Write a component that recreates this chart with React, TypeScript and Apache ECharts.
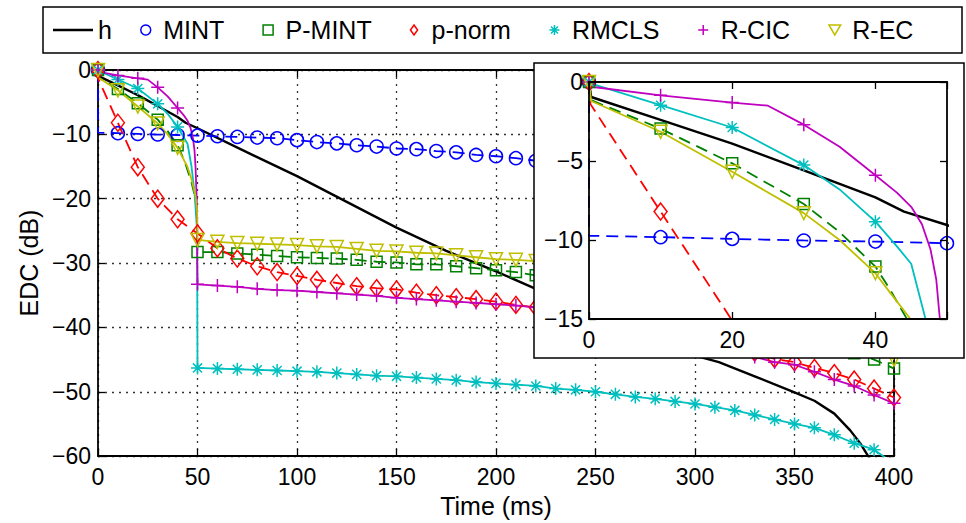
import React, { useEffect, useRef } from 'react';
import * as echarts from 'echarts';

const FONT = '"Liberation Sans", Arial, Helvetica, sans-serif';

// Series names and colours (MATLAB default order)
const names = ['h', 'MINT', 'P-MINT', 'p-norm', 'RMCLS', 'R-CIC', 'R-EC'];
const colors = ['#000000', '#0000ff', '#008000', '#ff0000', '#00bfbf', '#bf00bf', '#bfbf00'];

// Axis ticks
const mainXTicks = [0, 50, 100, 150, 200, 250, 300, 350, 400];
const mainYTicks = [-60, -50, -40, -30, -20, -10, 0];
const insetXTicks = [0, 20, 40];
const insetYTicks = [-15, -10, -5, 0];

// [time (ms), EDC (dB)]
const hData = [
  [0, 0], [0.3, -0.95], [10, -2.4], [16, -3.3], [20, -3.9], [30, -5.6], [40, -7.3], [44, -8.2], [50, -9.05],
  [75, -12.8], [100, -16.5], [125, -20.5], [150, -24.5], [175, -28.1], [200, -31.3], [220, -34],
  [250, -38], [275, -41.2], [300, -44.4], [312, -45.4], [330, -47.6], [350, -50.1], [360, -51.4],
  [370, -53.4], [378, -56], [383, -58], [387, -60], [390, -61.5],
];
const mintData = [
  [0, 0], [0, -9.73], [10, -9.82], [20, -9.93], [30, -10.03], [40, -10.1], [50, -10.2], [60, -10.3],
  [70, -10.4], [80, -10.5], [90, -10.6], [100, -10.9], [110, -11.2], [120, -11.4], [130, -11.7],
  [140, -11.9], [150, -12.2], [160, -12.3], [170, -12.6], [180, -12.8], [190, -13.2], [200, -13.4],
  [210, -13.7], [220, -14.1], [230, -14.4], [240, -14.8], [250, -15.2], [260, -15.6], [270, -16],
  [280, -16.5], [290, -17], [300, -17.5], [310, -18.1], [320, -18.7], [330, -19.4], [340, -20.1],
  [350, -20.9], [360, -21.8], [370, -22.8], [380, -24], [390, -25.4], [400, -27],
];
const pmintData = [
  [0, 0], [0.3, -1.15], [10, -2.95], [20, -5.15], [30, -7.72], [35, -9.5], [40, -11.68], [42, -13.1],
  [44.4, -15], [47, -17.5], [49, -20], [49.8, -23], [50, -28.3], [60, -28.3], [70, -28.5], [80, -28.7],
  [90, -28.9], [100, -29.1], [110, -29.2], [120, -29.3], [130, -29.5], [140, -29.8], [150, -29.9],
  [160, -30.2], [170, -30.2], [180, -30.5], [190, -30.8], [200, -31.1], [210, -31.4], [220, -31.9],
  [230, -32.1], [240, -32.4], [250, -32.7], [260, -33], [270, -33.3], [280, -33.6], [290, -34],
  [300, -34.4], [310, -34.9], [320, -35.5], [330, -36.3], [340, -37.3], [350, -38.6], [360, -40.2],
  [370, -42.1], [380, -44], [390, -45], [400, -46.4],
];
const pnormData = [
  [0, 0], [0.2, -1.4], [10, -8.2], [20, -15.1], [30, -20], [40, -23.2], [50, -25.4], [60, -27.7],
  [70, -29.3], [80, -30.5], [90, -31.4], [100, -32], [110, -32.6], [120, -33.1], [130, -33.6],
  [140, -33.9], [150, -34.1], [160, -34.6], [170, -35], [180, -35.3], [190, -35.6], [200, -36],
  [210, -36.5], [220, -36.9], [230, -37.4], [240, -37.9], [250, -38.5], [260, -39.1], [270, -39.7],
  [280, -40.3], [290, -41], [300, -41.6], [310, -42.3], [320, -43], [330, -43.9], [340, -44.9],
  [350, -45.4], [360, -46.3], [370, -47.1], [380, -48.1], [390, -49.5], [400, -50.9],
];
const rmclsData = [
  [0, 0], [0.3, -0.1], [10, -1.47], [20, -2.88], [30, -5.26], [35, -6.8], [40, -8.84], [43, -10.4],
  [45, -11.5], [47, -15], [48.5, -19], [49.8, -25], [50, -46.3], [60, -46.4], [70, -46.5], [80, -46.6],
  [90, -46.7], [100, -46.8], [110, -46.9], [120, -47.1], [130, -47.3], [140, -47.5], [150, -47.6],
  [160, -47.8], [170, -48], [180, -48.2], [190, -48.5], [200, -48.7], [210, -48.9], [220, -49.1],
  [230, -49.5], [240, -49.7], [250, -50], [260, -50.4], [270, -50.8], [280, -51.1], [290, -51.5],
  [300, -51.9], [310, -52.4], [320, -52.9], [330, -53.6], [340, -54.3], [350, -55], [360, -55.6],
  [370, -56.7], [380, -58], [390, -59], [400, -61.2],
];
const rcicData = [
  [0, 0], [0.3, -0.3], [10, -0.84], [20, -1.3], [25, -1.5], [30, -2.7], [35, -4.1], [40, -5.9],
  [43, -7], [45, -7.9], [46.5, -9], [47.7, -10.6], [48.5, -12.5], [49, -15], [49.6, -20], [50, -33.3],
  [60, -33.5], [70, -33.7], [80, -34], [90, -34.2], [100, -34.3], [110, -34.5], [120, -34.7],
  [130, -34.9], [140, -35.1], [150, -35.4], [160, -35.6], [170, -35.8], [180, -36], [190, -36.2],
  [200, -36.4], [210, -36.6], [220, -36.9], [230, -37.3], [240, -38], [250, -38.7], [260, -39.4],
  [270, -40], [280, -40.7], [290, -41.3], [300, -42], [310, -42.8], [320, -43.7], [330, -44.6],
  [340, -45.4], [350, -45.8], [360, -46.9], [370, -48.1], [380, -49.1], [390, -50.5], [400, -51.8],
];
const recData = [
  [0, 0], [0.3, -1.2], [10, -3.15], [20, -5.68], [30, -8.3], [35, -10], [40, -12.1], [42, -13.3],
  [44.9, -15], [47, -17], [49, -19.5], [49.8, -22], [50, -26.4], [60, -26.7], [70, -26.9], [80, -27],
  [90, -27.1], [100, -27.2], [110, -27.4], [120, -27.5], [130, -27.8], [140, -28.1], [150, -28.2],
  [160, -28.4], [170, -28.5], [180, -28.8], [190, -29.1], [200, -29.4], [210, -29.5], [220, -29.7],
  [230, -30], [240, -30.3], [250, -30.6], [260, -30.9], [270, -31.2], [280, -31.6], [290, -32],
  [300, -32.4], [310, -32.9], [320, -33.4], [330, -34], [340, -34.8], [350, -35.8], [360, -37],
  [370, -38.5], [380, -40.3], [390, -42.5], [400, -45],
];

const allData = [hData, mintData, pmintData, pnormData, rmclsData, rcicData, recData];

const SQUARE = 'path://M0,0 L10,0 L10,10 L0,10 Z';
const DIAMOND = 'path://M5,0 L10,7 L5,14 L0,7 Z';
const ASTERISK = 'path://M10,0 L10,20 M0,10 L20,10 M3,3 L17,17 M3,17 L17,3';
const PLUS = 'path://M10,0 L10,20 M0,10 L20,10';
const TRI_DOWN = 'path://M0,0 L20,0 L10,17 Z';
const symbols = ['none', 'circle', SQUARE, DIAMOND, ASTERISK, PLUS, TRI_DOWN];
const symbolSizes: any[] = [0, 13, 11, [13, 17], 13, 13, 13];
const dashed = [false, true, true, true, false, false, false];
const widths = [2.4, 1.8, 1.8, 1.8, 1.8, 1.8, 1.8];

function withMarkers(pts: number[][]) {
  return pts.map((p, i) => {
    const mark = p[0] % 10 === 0 && (i === 0 || pts[i - 1][0] !== p[0]);
    return mark ? { value: p } : { value: p, symbol: 'none' };
  });
}

function makeSeries(k: number, inset: boolean) {
  return {
    type: 'line',
    name: names[k],
    data: withMarkers(allData[k]),
    xAxisIndex: inset ? 2 : 0,
    yAxisIndex: inset ? 2 : 0,
    symbol: symbols[k],
    symbolSize: symbolSizes[k],
    symbolKeepAspect: false,
    showAllSymbol: true,
    clip: true,
    z: inset ? 20 : 2,
    lineStyle: { color: colors[k], width: widths[k], type: dashed[k] ? [12, 7] : 'solid' },
    itemStyle: { color: 'rgba(0,0,0,0)', borderColor: colors[k], borderWidth: 1.5 },
    emphasis: { disabled: true },
  };
}

const minusFmt = (v: number) => (v < 0 ? '\u2212' + Math.abs(v) : String(v));
const axisLineStyle = { color: '#000', width: 1.8 };
const tickFont = { fontSize: 23, color: '#000', fontFamily: FONT };
const nameFont = { fontSize: 25, color: '#000', fontFamily: FONT };
const legendText = { fontSize: 25, color: '#000', fontFamily: FONT, lineHeight: 30 };

export default function App() {
  const ref = useRef<HTMLDivElement>(null);
  useEffect(() => {
    document.body.style.margin = '0';
    const chart = echarts.init(ref.current!, null, { renderer: 'svg' });
    const series: any[] = [];
    for (let k = 0; k < names.length; k++) series.push(makeSeries(k, false));
    for (let k = 0; k < names.length; k++) series.push(makeSeries(k, true));

    const tickStyle = { inside: true, length: 7, lineStyle: { color: '#000', width: 1.3 } };
    const gridDots = { show: true, lineStyle: { type: [2, 5], color: '#333', width: 1.3 } };

    const option: any = {
      animation: false,
      backgroundColor: '#fff',
      textStyle: { fontFamily: FONT },
      grid: [
        { left: 98, top: 70, width: 796, height: 390 },
        { left: 589, top: 82, width: 358, height: 237, z: 20 },
      ],
      legend: [
        {
          left: 53,
          top: 15,
          padding: 0,
          itemWidth: 40,
          itemHeight: 2.5,
          textStyle: legendText,
          data: [{ name: names[0], icon: 'rect', itemStyle: { color: '#000', borderWidth: 0 } }],
          z: 30,
        },
        {
          left: 140,
          top: 15,
          padding: 0,
          itemGap: 38,
          itemWidth: 25,
          itemHeight: 10,
          symbolKeepAspect: true,
          textStyle: legendText,
          data: names.slice(1).map((n, i) => ({
            name: n,
            icon: symbols[i + 1],
            itemStyle: { color: 'rgba(0,0,0,0)', borderColor: colors[i + 1], borderWidth: 1.5 },
          })),
          z: 30,
        },
      ],
      xAxis: [
        {
          gridIndex: 0, type: 'value', position: 'bottom',
          min: mainXTicks[0], max: mainXTicks[mainXTicks.length - 1], interval: mainXTicks[1] - mainXTicks[0],
          axisLine: { show: true, onZero: false, lineStyle: axisLineStyle },
          axisTick: tickStyle,
          axisLabel: { ...tickFont, margin: 9 },
          splitLine: gridDots,
          name: 'Time (ms)', nameLocation: 'middle', nameGap: 33,
          nameTextStyle: nameFont,
        },
        {
          gridIndex: 0, type: 'value', position: 'top',
          min: mainXTicks[0], max: mainXTicks[mainXTicks.length - 1], interval: mainXTicks[1] - mainXTicks[0],
          axisLine: { show: true, onZero: false, lineStyle: axisLineStyle },
          axisTick: tickStyle, axisLabel: { show: false }, splitLine: { show: false },
        },
        {
          gridIndex: 1, type: 'value', position: 'bottom', z: 21,
          min: 0, max: 50, interval: insetXTicks[1] - insetXTicks[0],
          axisLine: { show: true, onZero: false, lineStyle: axisLineStyle },
          axisTick: tickStyle,
          axisLabel: { ...tickFont, margin: 9, formatter: (v: number) => (insetXTicks.includes(v) ? String(v) : '') },
          splitLine: { show: false },
        },
        {
          gridIndex: 1, type: 'value', position: 'top', z: 21,
          min: 0, max: 50, interval: insetXTicks[1] - insetXTicks[0],
          axisLine: { show: true, onZero: false, lineStyle: axisLineStyle },
          axisTick: tickStyle, axisLabel: { show: false }, splitLine: { show: false },
        },
      ],
      yAxis: [
        {
          gridIndex: 0, type: 'value', position: 'left',
          min: mainYTicks[0], max: mainYTicks[mainYTicks.length - 1], interval: mainYTicks[1] - mainYTicks[0],
          axisLine: { show: true, onZero: false, lineStyle: axisLineStyle },
          axisTick: tickStyle,
          axisLabel: { ...tickFont, margin: 7, formatter: minusFmt },
          splitLine: gridDots,
          name: 'EDC (dB)', nameLocation: 'middle', nameGap: 57,
          nameTextStyle: nameFont,
        },
        {
          gridIndex: 0, type: 'value', position: 'right',
          min: mainYTicks[0], max: mainYTicks[mainYTicks.length - 1], interval: mainYTicks[1] - mainYTicks[0],
          axisLine: { show: true, onZero: false, lineStyle: axisLineStyle },
          axisTick: tickStyle, axisLabel: { show: false }, splitLine: { show: false },
        },
        {
          gridIndex: 1, type: 'value', position: 'left', z: 21,
          min: insetYTicks[0], max: insetYTicks[insetYTicks.length - 1], interval: insetYTicks[1] - insetYTicks[0],
          axisLine: { show: true, onZero: false, lineStyle: axisLineStyle },
          axisTick: tickStyle,
          axisLabel: { ...tickFont, margin: 6, formatter: minusFmt },
          splitLine: { show: false },
        },
        {
          gridIndex: 1, type: 'value', position: 'right', z: 21,
          min: insetYTicks[0], max: insetYTicks[insetYTicks.length - 1], interval: insetYTicks[1] - insetYTicks[0],
          axisLine: { show: true, onZero: false, lineStyle: axisLineStyle },
          axisTick: tickStyle, axisLabel: { show: false }, splitLine: { show: false },
        },
      ],
      graphic: [
        {
          type: 'rect', z: 1, silent: true,
          shape: { x: 43, y: 7, width: 919, height: 46 },
          style: { fill: '#fff', stroke: '#000', lineWidth: 1.5 },
        },
        {
          type: 'rect', z: 15, silent: true,
          shape: { x: 534, y: 63, width: 430, height: 295 },
          style: { fill: '#fff', stroke: '#000', lineWidth: 1.5 },
        },
      ],
      series,
    };
    chart.setOption(option);
    return () => chart.dispose();
  }, []);
  return <div ref={ref} style={{ width: 966, height: 523 }} />;
}
